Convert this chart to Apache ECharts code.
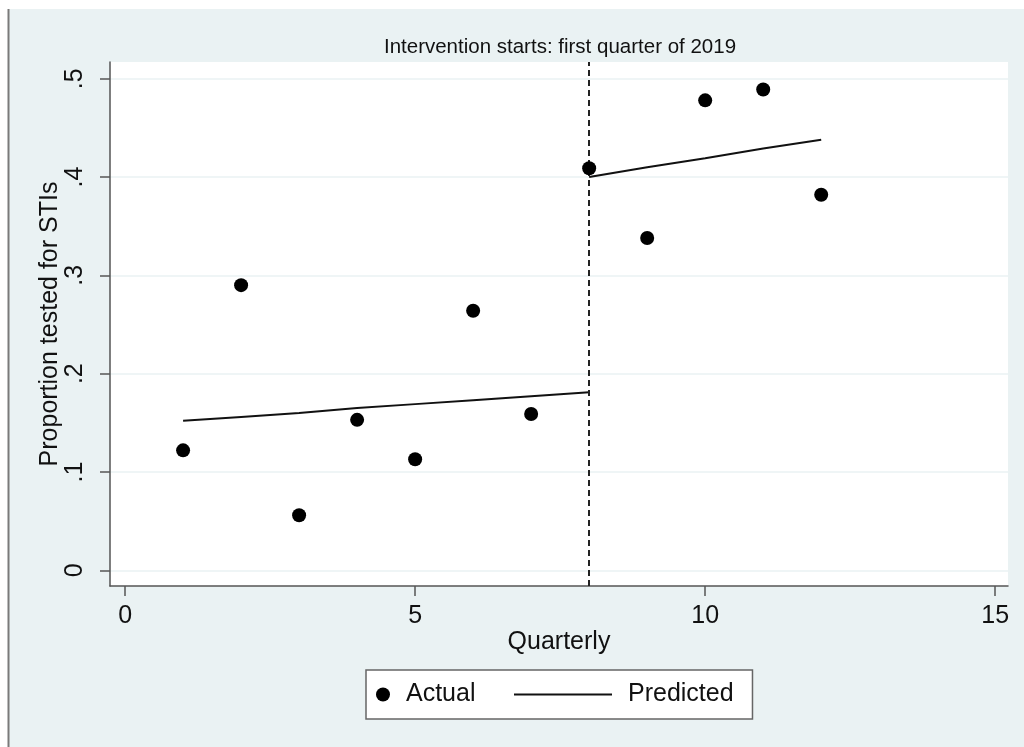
<!DOCTYPE html>
<html><head><meta charset="utf-8">
<script src="https://cdn.jsdelivr.net/npm/echarts@6/dist/echarts.min.js"></script>
<style>html,body{margin:0;padding:0;background:#fff}#c{width:1024px;height:747px}</style>
</head><body><div id="c"></div>
<script>
// ---- data ----
const quarters = [1,2,3,4,5,6,7,8,9,10,11,12];
const actual = [0.122,0.290,0.056,0.153,0.113,0.264,0.159,0.409,0.338,0.478,0.489,0.382];
const preQuarters = [1,2,3,4,5,6,7,8];
const predictedPre = [0.152,0.156,0.160,0.165,0.169,0.173,0.177,0.181];
const postQuarters = [8,9,10,11,12];
const predictedPost = [0.400,0.410,0.419,0.429,0.438];
const interventionQuarter = 8;
const xTicks = [0,5,10,15];
const yTicks = [0,0.1,0.2,0.3,0.4,0.5];
const yTickLabels = ['0','.1','.2','.3','.4','.5'];
const titleText = 'Intervention starts: first quarter of 2019';
const xName = 'Quarterly';
const yName = 'Proportion tested for STIs';

const FONT = "'Liberation Sans', Arial, sans-serif";
const FS = 25;
const zip = (xs, ys) => xs.map((x, i) => [x, ys[i]]);

const chart = echarts.init(document.getElementById('c'), null, {renderer: 'canvas'});
chart.setOption({
  animation: false,
  backgroundColor: '#ffffff',
  textStyle: {fontFamily: FONT},
  graphic: [
    {type: 'rect', z: -10, silent: true, shape: {x: 9, y: 9, width: 1015, height: 738}, style: {fill: '#eaf2f3'}},
    {type: 'line', z: -9, silent: true, shape: {x1: 8.5, y1: 9, x2: 8.5, y2: 747}, style: {stroke: '#7a7a7a', lineWidth: 2}}
  ],
  title: {
    text: titleText, left: 560, top: 37, padding: 0, textAlign: 'center',
    textStyle: {fontFamily: FONT, fontSize: 20.5, fontWeight: 'normal', color: '#111'}
  },
  grid: {left: 110, top: 62, right: 16, bottom: 161, show: true, backgroundColor: '#ffffff', borderWidth: 0, containLabel: false},
  xAxis: {
    type: 'value', min: -0.26, max: 15.22,
    name: xName, nameLocation: 'middle', nameGap: 44, nameMoveOverlap: false,
    nameTextStyle: {fontFamily: FONT, fontSize: FS, color: '#111'},
    axisLine: {show: true, onZero: false, lineStyle: {color: '#555', width: 1.5}},
    axisTick: {show: true, length: 10, customValues: xTicks, lineStyle: {color: '#555', width: 1.5}},
    axisLabel: {customValues: xTicks, margin: 18, fontFamily: FONT, fontSize: FS, color: '#111'},
    splitLine: {show: false}
  },
  yAxis: {
    type: 'value', min: -0.016, max: 0.517,
    name: yName, nameLocation: 'middle', nameRotate: 90, nameGap: 47, nameMoveOverlap: false,
    nameTextStyle: {fontFamily: FONT, fontSize: FS, color: '#111'},
    axisLine: {show: true, onZero: false, lineStyle: {color: '#555', width: 1.5}},
    axisTick: {show: true, length: 10, customValues: yTicks, lineStyle: {color: '#555', width: 1.5}},
    axisLabel: {
      customValues: yTicks, rotate: 90, margin: 22, fontFamily: FONT, fontSize: FS, color: '#111',
      formatter: v => { const i = yTicks.findIndex(t => Math.abs(t - v) < 1e-9); return i >= 0 ? yTickLabels[i] : ''; }
    },
    splitLine: {show: true, lineStyle: {color: '#eaf2f3', width: 1.5}}
  },
  legend: [
    {
      data: [{name: 'Actual', icon: 'circle'}], selectedMode: false,
      left: 366, top: 670, padding: [12, 277, 12, 10],
      itemWidth: 36, itemHeight: 14, itemGap: 0,
      backgroundColor: '#ffffff', borderColor: '#666', borderWidth: 1.5, borderRadius: 0,
      textStyle: {fontFamily: FONT, fontSize: FS, color: '#111'}
    },
    {
      data: [{name: 'Predicted', icon: 'rect'}], selectedMode: false,
      left: 514, top: 682, padding: 0,
      itemWidth: 98, itemHeight: 2,
      textStyle: {fontFamily: FONT, fontSize: FS, color: '#111', padding: [0, 0, 0, 11]}
    }
  ],
  series: [
    {
      name: 'Actual', type: 'scatter', data: zip(quarters, actual),
      symbol: 'circle', symbolSize: 14, itemStyle: {color: '#000', opacity: 1}, z: 5,
      markLine: {
        silent: true, symbol: ['none', 'none'], label: {show: false},
        lineStyle: {color: '#222', width: 2, type: [6, 4]},
        data: [{xAxis: interventionQuarter}]
      }
    },
    {
      name: 'Predicted', type: 'line', data: zip(preQuarters, predictedPre),
      symbol: 'none', showSymbol: false, lineStyle: {color: '#111', width: 2}, itemStyle: {color: '#111'}, z: 4
    },
    {
      name: 'Predicted', type: 'line', data: zip(postQuarters, predictedPost),
      symbol: 'none', showSymbol: false, lineStyle: {color: '#111', width: 2}, itemStyle: {color: '#111'}, z: 4
    }
  ]
});
</script>
</body></html>
